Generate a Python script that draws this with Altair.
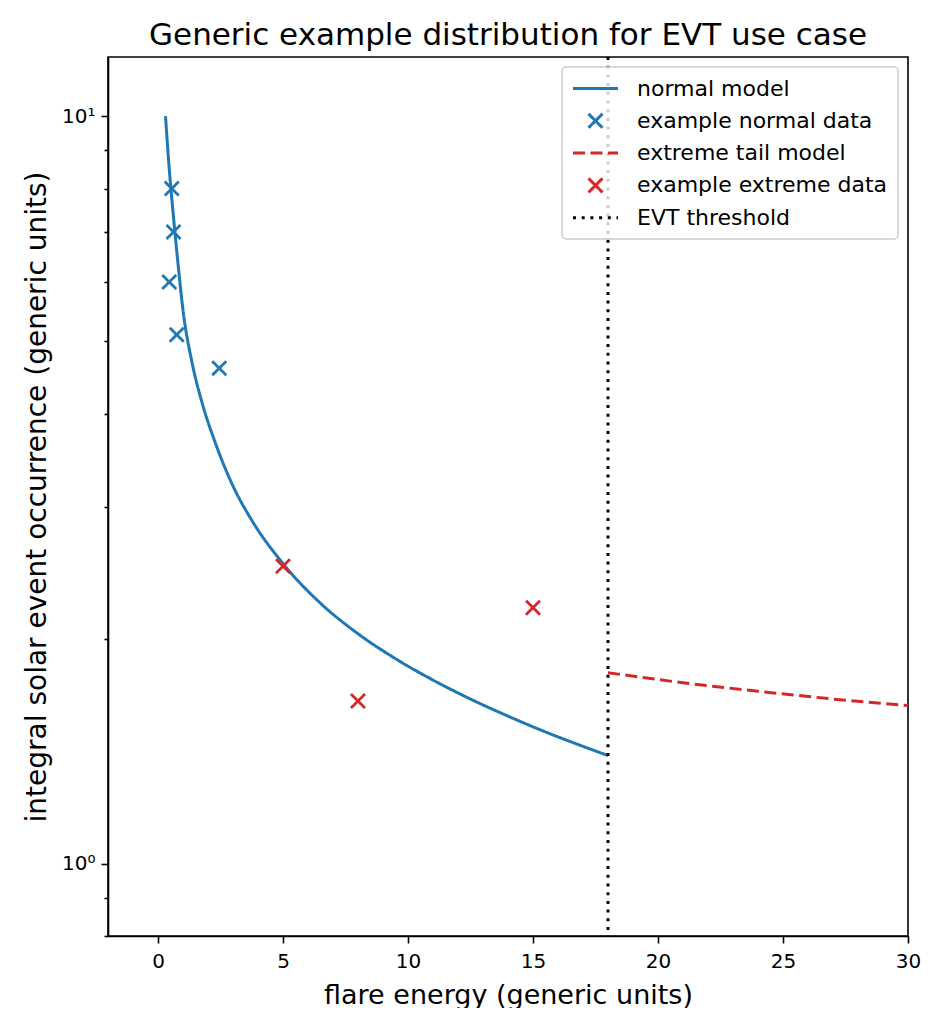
import altair as alt
import pandas as pd

# ---- data ----
series_names = ["normal model", "example normal data", "extreme tail model",
                "example extreme data", "EVT threshold"]
series_colors = ["#1f77b4", "#1f77b4", "#d62728", "#d62728", "#000000"]

normal_model_x = [0.3, 0.45, 0.6, 0.8, 1.0, 1.35, 1.75, 2.3, 3.0, 3.75, 5.0, 6.5,
                  8.0, 9.5, 11.0, 12.5, 14.0, 15.5, 17.0, 18.0]
normal_model_y = [10.0, 8.5, 7.45, 6.35, 5.5, 4.7, 4.15, 3.65, 3.2, 2.88, 2.52, 2.23,
                  2.03, 1.88, 1.76, 1.66, 1.575, 1.50, 1.435, 1.395]

normal_data_x = [0.55, 0.62, 0.45, 0.75, 2.45]
normal_data_y = [8.0, 7.0, 6.0, 5.1, 4.6]

tail_model_x = [18, 21, 24, 27, 30]
tail_model_y = [1.80, 1.745, 1.70, 1.66, 1.627]

extreme_data_x = [5, 8, 15]
extreme_data_y = [2.5, 1.65, 2.2]

threshold_x = [18]

x_ticks = [0, 5, 10, 15, 20, 25, 30]
y_major = [1, 10]
y_minor = [0.8, 0.9, 2, 3, 4, 5, 6, 7, 8, 9]

# ---- tables ----
df_nm = pd.DataFrame({"x": normal_model_x, "y": normal_model_y, "series": series_names[0]})
df_nd = pd.DataFrame({"x": normal_data_x, "y": normal_data_y, "series": series_names[1]})
df_tm = pd.DataFrame({"x": tail_model_x, "y": tail_model_y, "series": series_names[2]})
df_ed = pd.DataFrame({"x": extreme_data_x, "y": extreme_data_y, "series": series_names[3]})
df_th = pd.DataFrame({"x": threshold_x, "series": series_names[4]})

LINE = "M-2.25,0L2.25,0"
CROSS = "M-0.7,-0.7L0.7,0.7M-0.7,0.7L0.7,-0.7"
shapes = [LINE, CROSS, LINE, CROSS, LINE]
dashes = [[1, 0], [1, 0], [12, 5.5], [1, 0], [3, 5.7]]

color = alt.Color("series:N", title=None,
                  scale=alt.Scale(domain=series_names, range=series_colors))
dash = alt.StrokeDash("series:N", title=None,
                      scale=alt.Scale(domain=series_names, range=dashes))
shape = alt.Shape("series:N", title=None,
                  scale=alt.Scale(domain=series_names, range=shapes))

xenc = alt.X("x:Q", title="flare energy (generic units)",
             scale=alt.Scale(domain=[-2, 30], nice=False, zero=False),
             axis=alt.Axis(values=x_ticks, grid=False, tickSize=7, labelPadding=8,
                           titlePadding=11, labelFontSize=20, labelFlush=False,
                           titleFontSize=27))
yscale = alt.Scale(type="log", domain=[0.8, 12], nice=False)
ymain = alt.Y("y:Q", title="integral solar event occurrence (generic units)",
              scale=yscale,
              axis=alt.Axis(values=y_major, grid=False, tickSize=7, labelPadding=6,
                            titlePadding=10, orient="left", labelFontSize=20,
                            titleFontSize=28, labelFlush=False,
                            labelExpr="datum.value == 10 ? '10¹' : (datum.value == 1 ? '10⁰' : '')"))
yminor = alt.Y("y:Q", title=None, scale=yscale,
               axis=alt.Axis(values=y_minor, grid=False, tickSize=4, labels=False,
                             domain=False, orient="left"))

nm = alt.Chart(df_nm).mark_line(strokeWidth=3, interpolate="monotone").encode(
    x=xenc, y=ymain, color=color, strokeDash=dash)
tm = alt.Chart(df_tm).mark_line(strokeWidth=3).encode(
    x=xenc, y=ymain, color=color, strokeDash=dash)
ed = alt.Chart(df_ed).mark_point(filled=False, strokeWidth=2.8, size=400, opacity=1).encode(
    x=xenc, y=ymain, color=color, strokeDash=dash, shape=shape)
th = alt.Chart(df_th).mark_rule(strokeWidth=3).encode(
    x=xenc, color=color, strokeDash=dash)
nd = alt.Chart(df_nd).mark_point(filled=False, strokeWidth=2.8, size=400, opacity=1).encode(
    x=xenc, y=yminor, color=color, strokeDash=dash, shape=shape)

inner = alt.layer(nm, tm, ed, th)
chart = alt.layer(inner, nd).resolve_axis(y="independent").properties(
    width=800, height=879,
    padding={"left": 15, "top": 11, "right": 0, "bottom": 0},
    title=alt.TitleParams("Generic example distribution for EVT use case",
                          fontSize=31, fontWeight="normal", color="black", offset=4),
).configure(font="DejaVu Sans").configure_view(
    stroke="black", strokeWidth=1.6
).configure_axis(
    domainColor="black", domainWidth=1.6, tickColor="black", tickWidth=1.6,
    labelColor="black", titleFontWeight="normal",
    titleColor="black", labelFont="DejaVu Sans", titleFont="DejaVu Sans"
).configure_legend(
    orient="top-right", offset=10, padding=10, fillColor="rgba(255,255,255,0.8)",
    strokeColor="#cccccc", strokeWidth=1.5, cornerRadius=4,
    labelFontSize=22, labelColor="black", labelFont="DejaVu Sans", labelLimit=0,
    symbolSize=400, symbolStrokeWidth=3, labelOffset=30, rowPadding=7.3,
    symbolOffset=12, symbolFillColor="transparent"
)

chart.save("out.html", embed_options={"renderer": "svg", "actions": False})
